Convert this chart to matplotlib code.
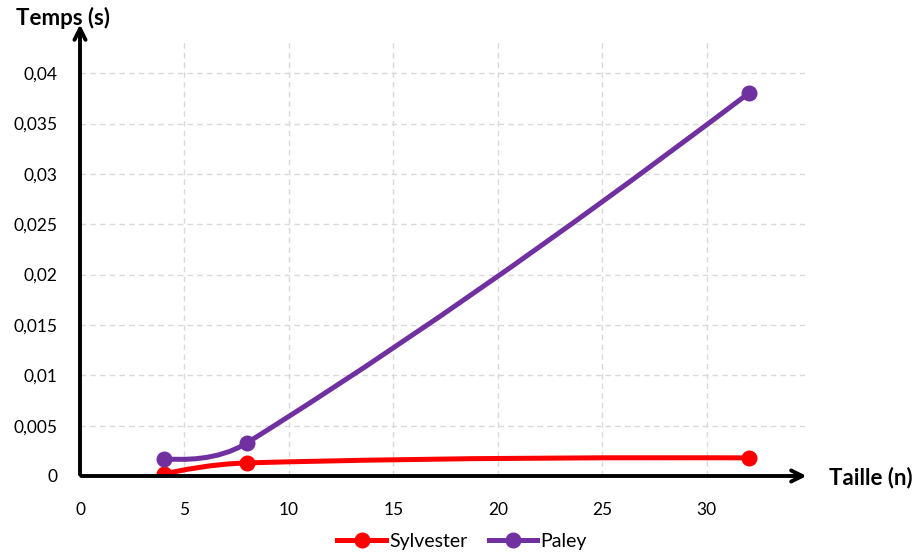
import numpy as np
import matplotlib.pyplot as plt
from matplotlib.path import Path
from matplotlib.patches import PathPatch

plt.rcParams['font.family'] = ['Lato', 'DejaVu Sans']

# données
tailles = [4, 8, 32]
sylvester = [0.0002, 0.0013, 0.0018]
paley = [0.0017, 0.0033, 0.038]
xticks = [0, 5, 10, 15, 20, 25, 30]
yticks = [0, 0.005, 0.01, 0.015, 0.02, 0.025, 0.03, 0.035, 0.04]
ylabels = ['0', '0,005', '0,01', '0,015', '0,02', '0,025', '0,03', '0,035', '0,04']

rouge = '#FF0000'
violet = '#7030A0'

fig = plt.figure(figsize=(9.19, 5.53), dpi=100)
ax = fig.add_axes([80 / 919, 77 / 553, 725 / 919, 434 / 553])
ax.set_xlim(0, 34.7)
ax.set_ylim(0, 0.0431)


def courbe_lisse(ax, xs, ys, tension=0.42):
    # lissage type Excel : bezier cubique calculé en coordonnées écran
    pts = ax.transData.transform(np.column_stack([xs, ys]))
    n = len(pts)
    d = [np.hypot(*(pts[i + 1] - pts[i])) for i in range(n - 1)]
    c_in = [None] * n
    c_out = [None] * n
    for i in range(1, n - 1):
        t = pts[i + 1] - pts[i - 1]
        s = d[i - 1] + d[i]
        c_in[i] = pts[i] - t * d[i - 1] / s * tension
        c_out[i] = pts[i] + t * d[i] / s * tension
    c_out[0] = pts[0] + (c_in[1] - pts[0]) / 3
    c_in[n - 1] = pts[n - 1] + (c_out[n - 2] - pts[n - 1]) / 3
    verts = [pts[0]]
    codes = [Path.MOVETO]
    for i in range(n - 1):
        verts += [c_out[i], c_in[i + 1], pts[i + 1]]
        codes += [Path.CURVE4] * 3
    verts = ax.transData.inverted().transform(np.array(verts))
    return Path(verts, codes)


for ys, col, nom in [(sylvester, rouge, 'Sylvester'), (paley, violet, 'Paley')]:
    p = courbe_lisse(ax, tailles, ys)
    ax.add_patch(PathPatch(p, fc='none', ec=col, lw=3.6, capstyle='round', zorder=3))
    ax.plot(tailles, ys, 'o', color=col, ms=10.5, zorder=4)
    ax.plot([], [], '-o', color=col, lw=3.6, ms=10.5, label=nom)

# grille
for x in xticks[1:]:
    ax.axvline(x, color='#D9D9D9', lw=1, ls=(0, (4, 3)), zorder=1)
for y in yticks[1:]:
    ax.axhline(y, color='#D9D9D9', lw=1, ls=(0, (4, 3)), zorder=1)

for s in ax.spines.values():
    s.set_visible(False)
ax.set_xticks(xticks)
ax.set_yticks(yticks)
ax.set_yticklabels(ylabels)
ax.tick_params(length=0, labelsize=12.5, colors='black')
ax.tick_params(axis='x', pad=19)
ax.tick_params(axis='y', pad=16)

# axes avec flèches
style = '->,head_length=0.8,head_width=0.4'
ax.annotate('', xy=(0, 1.047), xytext=(0, -0.003), xycoords='axes fraction',
            arrowprops=dict(arrowstyle=style, lw=2.8, color='black'), zorder=5)
ax.annotate('', xy=(1.006, 0), xytext=(-0.002, 0), xycoords='axes fraction',
            arrowprops=dict(arrowstyle=style, lw=2.8, color='black'), zorder=5)

fig.text(63 / 919, 1 - 18 / 553, 'Temps (s)', ha='center', va='center', fontsize=16, fontweight='bold')
fig.text(871 / 919, 1 - 478 / 553, 'Taille (n)', ha='center', va='center', fontsize=16, fontweight='bold')

fig.legend(loc='center', bbox_to_anchor=(462 / 919, 1 - 541 / 553), ncol=2, frameon=False,
           fontsize=14, handlelength=2.5, handletextpad=0.15, columnspacing=1.1)

plt.savefig('out.png', dpi=100)
